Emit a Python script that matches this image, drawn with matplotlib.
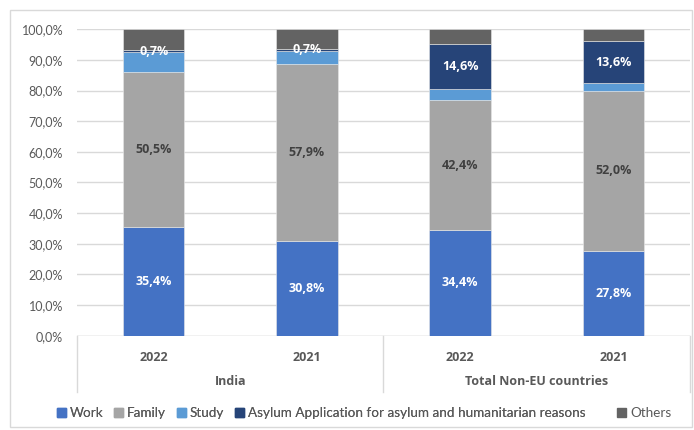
import numpy as np
import matplotlib.pyplot as plt
from matplotlib.patches import Patch, Rectangle
import matplotlib.transforms as mtransforms

plt.rcParams['font.family'] = ['Lato', 'DejaVu Sans']
BOLD_FONT = ['Open Sans', 'DejaVu Sans']

groups = ['India', 'Total Non-EU countries']
years = ['2022', '2021', '2022', '2021']
series = ['Work', 'Family', 'Study',
          'Asylum Application for asylum and humanitarian reasons', 'Others']
work = [35.4, 30.8, 34.4, 27.8]
family = [50.5, 57.9, 42.4, 52.0]
study = [6.6, 4.3, 3.7, 2.7]
asylum = [0.7, 0.7, 14.6, 13.6]
others = [6.8, 6.3, 4.9, 3.9]

colors = ['#4472C4', '#A5A5A5', '#5B9BD5', '#264478', '#636363']
label_colors = ['white', '#404040', None, 'white', None]
grid_c = '#D9D9D9'
txt_c = '#595959'


def fmt(v):
    return f'{v:.1f}%'.replace('.', ',')


def main():
    fig = plt.figure(figsize=(6.94, 4.30), dpi=100)
    fig.patches.append(Rectangle((10 / 694, 3 / 430), 682 / 694, 417 / 430,
                                 transform=fig.transFigure, fill=False,
                                 edgecolor=grid_c, linewidth=1))
    ax = fig.add_axes([77 / 694, 0.2193, 613 / 694, 0.7126])

    x = np.arange(len(years))
    bottom = np.zeros(len(years))
    data = [work, family, study, asylum, others]
    for vals, col, lc, name in zip(data, colors, label_colors, series):
        vals = np.array(vals)
        ax.bar(x, vals, 0.4, bottom=bottom, color=col, label=name,
               edgecolor='#E8E8E8', linewidth=0.4, zorder=3)
        if lc is not None:
            for xi, b, v in zip(x, bottom, vals):
                ax.text(xi, b + v / 2, fmt(v), ha='center', va='center',
                        color=lc, fontsize=9, fontweight='bold',
                        family=BOLD_FONT, zorder=4)
        bottom += vals

    ax.set_xlim(-0.5, len(years) - 0.5)
    ax.set_ylim(0, 100)
    ax.set_yticks(np.arange(0, 101, 10))
    ax.set_yticklabels([fmt(v) for v in np.arange(0, 101, 10)])
    ax.yaxis.grid(True, color=grid_c, linewidth=1, zorder=0)
    ax.tick_params(axis='y', length=0, labelsize=9, labelcolor=txt_c, pad=10)
    for s in ax.spines.values():
        s.set_visible(False)
    ax.axhline(0, color=grid_c, linewidth=1, zorder=2)

    ax.set_xticks(x)
    ax.set_xticklabels(years, fontweight='bold', family=BOLD_FONT)
    ax.tick_params(axis='x', length=0, labelsize=9, labelcolor=txt_c, pad=11)

    trans = mtransforms.blended_transform_factory(ax.transData, ax.transAxes)
    for sx in [-0.5, 1.5, 3.5]:
        ax.plot([sx, sx], [0, -0.183], transform=trans, color=grid_c,
                linewidth=1, clip_on=False)
    for gi, g in enumerate(groups):
        ax.text(gi * 2 + 0.5, -0.15, g, transform=trans, ha='center',
                va='center', fontsize=9, fontweight='bold',
                family=BOLD_FONT, color=txt_c)

    handles = [Patch(color=c) for c in colors]
    leg1 = fig.legend(handles[:4], series[:4], loc='center left',
                      bbox_to_anchor=(45 / 694, 1 - 413 / 430), ncol=4,
                      frameon=False, fontsize=9.7, handlelength=0.65,
                      handleheight=0.65, handletextpad=0.3, columnspacing=0.8,
                      labelcolor=txt_c)
    fig.legend(handles[4:], series[4:], loc='center left',
               bbox_to_anchor=(605 / 694, 1 - 413 / 430), frameon=False,
               fontsize=9.7, handlelength=0.65, handleheight=0.65,
               handletextpad=0.3, labelcolor=txt_c)
    fig.add_artist(leg1)

    fig.savefig('out.png', dpi=100)


if __name__ == '__main__':
    main()
